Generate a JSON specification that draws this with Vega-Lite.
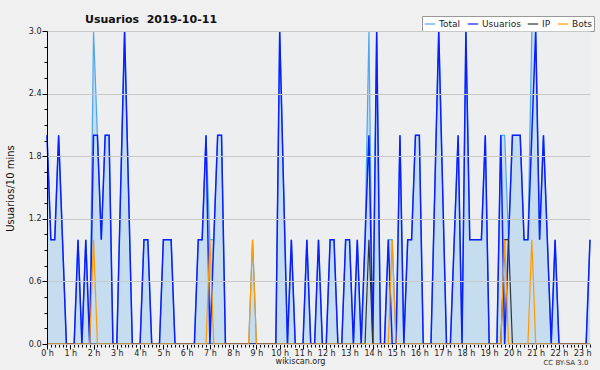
{
"$schema": "https://vega.github.io/schema/vega-lite/v6.json",
"width": 543, "height": 313,
"autosize": "none",
"padding": {"left": 47, "top": 31, "right": 10, "bottom": 26},
"background": "#F0F0F0",
"config": {"view": {"fill": "#EDEEF0", "stroke": null}, "font": "DejaVu Sans"},
"title": {"text": "Usuarios\u00a0\u00a02019-10-11", "anchor": "start", "frame": "group", "dx": 38, "dy": 27, "offset": 9, "baseline": "alphabetic", "font": "DejaVu Sans", "fontSize": 11, "fontWeight": "bold", "color": "#111111"},
"data": {"values": [
{"m":0,"T":2,"U":2,"I":0,"B":0},{"m":10,"T":1,"U":1,"I":0,"B":0},{"m":20,"T":1,"U":1,"I":0,"B":0},{"m":30,"T":2,"U":2,"I":0,"B":0},{"m":40,"T":1,"U":1,"I":0,"B":0},
{"m":50,"T":0,"U":0,"I":0,"B":0},{"m":60,"T":0,"U":0,"I":0,"B":0},{"m":70,"T":0,"U":0,"I":0,"B":0},{"m":80,"T":1,"U":1,"I":0,"B":0},{"m":90,"T":0,"U":0,"I":0,"B":0},
{"m":100,"T":1,"U":1,"I":0,"B":0},{"m":110,"T":0,"U":0,"I":0,"B":0},{"m":120,"T":3,"U":2,"I":0,"B":1},{"m":130,"T":2,"U":2,"I":0,"B":0},{"m":140,"T":1,"U":1,"I":0,"B":0},
{"m":150,"T":2,"U":2,"I":0,"B":0},{"m":160,"T":2,"U":2,"I":0,"B":0},{"m":170,"T":0,"U":0,"I":0,"B":0},{"m":180,"T":0,"U":0,"I":0,"B":0},{"m":190,"T":1.5,"U":1.5,"I":0,"B":0},
{"m":200,"T":3,"U":3,"I":0,"B":0},{"m":210,"T":1.5,"U":1.5,"I":0,"B":0},{"m":220,"T":0,"U":0,"I":0,"B":0},{"m":230,"T":0,"U":0,"I":0,"B":0},{"m":240,"T":0,"U":0,"I":0,"B":0},
{"m":250,"T":1,"U":1,"I":0,"B":0},{"m":260,"T":1,"U":1,"I":0,"B":0},{"m":270,"T":0,"U":0,"I":0,"B":0},{"m":280,"T":0,"U":0,"I":0,"B":0},{"m":290,"T":0,"U":0,"I":0,"B":0},
{"m":300,"T":1,"U":1,"I":0,"B":0},{"m":310,"T":1,"U":1,"I":0,"B":0},{"m":320,"T":1,"U":1,"I":0,"B":0},{"m":330,"T":0,"U":0,"I":0,"B":0},{"m":340,"T":0,"U":0,"I":0,"B":0},
{"m":350,"T":0,"U":0,"I":0,"B":0},{"m":360,"T":0,"U":0,"I":0,"B":0},{"m":370,"T":0,"U":0,"I":0,"B":0},{"m":380,"T":0,"U":0,"I":0,"B":0},{"m":390,"T":1,"U":1,"I":0,"B":0},
{"m":400,"T":1,"U":1,"I":0,"B":0},{"m":410,"T":2,"U":2,"I":0,"B":0},{"m":420,"T":1,"U":0,"I":0,"B":1},{"m":430,"T":1,"U":1,"I":0,"B":0},{"m":440,"T":2,"U":2,"I":0,"B":0},
{"m":450,"T":2,"U":2,"I":0,"B":0},{"m":460,"T":0,"U":0,"I":0,"B":0},{"m":470,"T":0,"U":0,"I":0,"B":0},{"m":480,"T":0,"U":0,"I":0,"B":0},{"m":490,"T":0,"U":0,"I":0,"B":0},
{"m":500,"T":0,"U":0,"I":0,"B":0},{"m":510,"T":0,"U":0,"I":0,"B":0},{"m":520,"T":0,"U":0,"I":0,"B":0},{"m":530,"T":1,"U":0,"I":0,"B":1},{"m":540,"T":0,"U":0,"I":0,"B":0},
{"m":550,"T":0,"U":0,"I":0,"B":0},{"m":560,"T":0,"U":0,"I":0,"B":0},{"m":570,"T":0,"U":0,"I":0,"B":0},{"m":580,"T":0,"U":0,"I":0,"B":0},{"m":590,"T":0,"U":0,"I":0,"B":0},
{"m":600,"T":3,"U":3,"I":0,"B":0},{"m":610,"T":1.5,"U":1.5,"I":0,"B":0},{"m":620,"T":0,"U":0,"I":0,"B":0},{"m":630,"T":1,"U":1,"I":0,"B":0},{"m":640,"T":0,"U":0,"I":0,"B":0},
{"m":650,"T":0,"U":0,"I":0,"B":0},{"m":660,"T":0,"U":0,"I":0,"B":0},{"m":670,"T":1,"U":1,"I":0,"B":0},{"m":680,"T":0,"U":0,"I":0,"B":0},{"m":690,"T":0,"U":0,"I":0,"B":0},
{"m":700,"T":1,"U":1,"I":0,"B":0},{"m":710,"T":0,"U":0,"I":0,"B":0},{"m":720,"T":0,"U":0,"I":0,"B":0},{"m":730,"T":1,"U":1,"I":0,"B":0},{"m":740,"T":1,"U":1,"I":0,"B":0},
{"m":750,"T":0,"U":0,"I":0,"B":0},{"m":760,"T":0,"U":0,"I":0,"B":0},{"m":770,"T":1,"U":1,"I":0,"B":0},{"m":780,"T":1,"U":1,"I":0,"B":0},{"m":790,"T":0,"U":0,"I":0,"B":0},
{"m":800,"T":1,"U":1,"I":0,"B":0},{"m":810,"T":0,"U":0,"I":0,"B":0},{"m":820,"T":1,"U":1,"I":0,"B":0},{"m":830,"T":3,"U":2,"I":1,"B":0},{"m":840,"T":0,"U":0,"I":0,"B":0},
{"m":850,"T":3,"U":3,"I":0,"B":0},{"m":860,"T":0,"U":0,"I":0,"B":0},{"m":870,"T":0,"U":0,"I":0,"B":0},{"m":880,"T":1,"U":1,"I":0,"B":0},{"m":890,"T":1,"U":0,"I":0,"B":1},
{"m":900,"T":0,"U":0,"I":0,"B":0},{"m":910,"T":2,"U":2,"I":0,"B":0},{"m":920,"T":0,"U":0,"I":0,"B":0},{"m":930,"T":1,"U":1,"I":0,"B":0},{"m":940,"T":1,"U":1,"I":0,"B":0},
{"m":950,"T":2,"U":2,"I":0,"B":0},{"m":960,"T":2,"U":2,"I":0,"B":0},{"m":970,"T":0,"U":0,"I":0,"B":0},{"m":980,"T":0,"U":0,"I":0,"B":0},{"m":990,"T":0,"U":0,"I":0,"B":0},
{"m":1000,"T":1.5,"U":1.5,"I":0,"B":0},{"m":1010,"T":3,"U":3,"I":0,"B":0},{"m":1020,"T":1.5,"U":1.5,"I":0,"B":0},{"m":1030,"T":0,"U":0,"I":0,"B":0},{"m":1040,"T":0,"U":0,"I":0,"B":0},
{"m":1050,"T":1,"U":1,"I":0,"B":0},{"m":1060,"T":2,"U":2,"I":0,"B":0},{"m":1070,"T":0,"U":0,"I":0,"B":0},{"m":1080,"T":3,"U":3,"I":0,"B":0},{"m":1090,"T":1,"U":1,"I":0,"B":0},
{"m":1100,"T":1,"U":1,"I":0,"B":0},{"m":1110,"T":1,"U":1,"I":0,"B":0},{"m":1120,"T":1,"U":1,"I":0,"B":0},{"m":1130,"T":2,"U":2,"I":0,"B":0},{"m":1140,"T":0,"U":0,"I":0,"B":0},
{"m":1150,"T":0,"U":0,"I":0,"B":0},{"m":1160,"T":0,"U":0,"I":0,"B":0},{"m":1170,"T":2,"U":2,"I":0,"B":0},{"m":1180,"T":2,"U":0,"I":1,"B":1},{"m":1190,"T":1,"U":1,"I":1,"B":0},
{"m":1200,"T":2,"U":2,"I":0,"B":0},{"m":1210,"T":2,"U":2,"I":0,"B":0},{"m":1220,"T":2,"U":2,"I":0,"B":0},{"m":1230,"T":1,"U":1,"I":0,"B":0},{"m":1240,"T":1,"U":1,"I":0,"B":0},
{"m":1250,"T":3,"U":2,"I":0,"B":1},{"m":1260,"T":3,"U":3,"I":0,"B":0},{"m":1270,"T":1,"U":1,"I":0,"B":0},{"m":1280,"T":2,"U":2,"I":0,"B":0},{"m":1290,"T":1,"U":1,"I":0,"B":0},
{"m":1300,"T":0,"U":0,"I":0,"B":0},{"m":1310,"T":1,"U":1,"I":0,"B":0},{"m":1320,"T":0,"U":0,"I":0,"B":0},{"m":1330,"T":0,"U":0,"I":0,"B":0},{"m":1340,"T":0,"U":0,"I":0,"B":0},
{"m":1350,"T":0,"U":0,"I":0,"B":0},{"m":1360,"T":0,"U":0,"I":0,"B":0},{"m":1370,"T":0,"U":0,"I":0,"B":0},{"m":1380,"T":0,"U":0,"I":0,"B":0},{"m":1390,"T":0,"U":0,"I":0,"B":0},
{"m":1400,"T":1,"U":1,"I":0,"B":0}
]},
"layer": [
{"mark": {"type": "area", "color": "#C6DDF0", "interpolate": "linear"},
 "encoding": {
  "x": {"field": "m", "type": "quantitative", "scale": {"domain": [0, 1400], "nice": false, "zero": false},
   "axis": {"orient": "bottom", "tickCount": 140, "labelExpr": "datum.value % 60 === 0 ? (datum.value/60) + ' h' : ''",
    "tickSize": {"condition": {"test": "datum.value % 60 === 0", "value": 5}, "value": 3},
    "tickColor": "#000000", "domainColor": "#000000", "grid": false, "labelOverlap": false, "labelFlush": false,
    "labelFontSize": 8, "labelColor": "#222222", "labelPadding": 0,
    "title": "wikiscan.org", "titleX": 253, "titleY": 17, "titleBaseline": "middle", "titleAlign": "center", "titleFontSize": 8, "titleFontWeight": "normal", "titleColor": "#222222"}},
  "y": {"field": "T", "type": "quantitative", "scale": {"domain": [0, 3], "nice": false},
   "axis": {"values": [0,0.15,0.3,0.45,0.6,0.75,0.9,1.05,1.2,1.35,1.5,1.65,1.8,1.95,2.1,2.25,2.4,2.55,2.7,2.85,3],
    "labelExpr": "abs(datum.value/0.6 - round(datum.value/0.6)) < 0.01 ? format(datum.value, '.1f') : ''",
    "tickSize": {"condition": {"test": "abs(datum.value/0.6 - round(datum.value/0.6)) < 0.01", "value": 5}, "value": 3},
    "grid": true, "gridColor": "#C8C8C8",
    "gridOpacity": {"condition": {"test": "abs(datum.value/0.6 - round(datum.value/0.6)) < 0.01", "value": 1}, "value": 0},
    "tickColor": "#000000", "domainColor": "#000000", "labelOverlap": false, "labelFlush": false,
    "labelFontSize": 8, "labelColor": "#222222", "labelPadding": 1, "zindex": 1,
    "title": "Usuarios/10 mins", "titleX": -37, "titleY": 157, "titleAngle": 270, "titleBaseline": "middle", "titleAlign": "center",
    "titleFontSize": 10, "titleFontWeight": "normal", "titleColor": "#111111"}}
 }},
{"mark": {"type": "line", "strokeWidth": 1.2},
 "encoding": {
  "x": {"field": "m", "type": "quantitative", "axis": null},
  "y": {"field": "T", "type": "quantitative", "axis": null},
  "color": {"datum": "Total", "type": "nominal",
   "scale": {"domain": ["Total", "Usuarios", "IP", "Bots"], "range": ["#4DA6F0", "#0A1EFF", "#333333", "#FF9900"]},
   "legend": {"orient": "none", "legendX": 375, "legendY": -15, "direction": "horizontal", "title": null,
    "fillColor": "#FFFFFF", "strokeColor": "#999999", "padding": 2, "symbolType": "stroke", "symbolSize": 110,
    "symbolStrokeWidth": 1.2, "labelFontSize": 9, "labelFont": "DejaVu Sans", "labelColor": "#222222",
    "columnPadding": 4, "labelOffset": 3}}
 }},
{"mark": {"type": "line", "strokeWidth": 1.5},
 "encoding": {
  "x": {"field": "m", "type": "quantitative", "axis": null},
  "y": {"field": "U", "type": "quantitative", "axis": null},
  "color": {"datum": "Usuarios", "type": "nominal"}
 }},
{"mark": {"type": "line", "strokeWidth": 1.2},
 "encoding": {
  "x": {"field": "m", "type": "quantitative", "axis": null},
  "y": {"field": "I", "type": "quantitative", "axis": null},
  "color": {"datum": "IP", "type": "nominal"}
 }},
{"mark": {"type": "line", "strokeWidth": 1.2},
 "encoding": {
  "x": {"field": "m", "type": "quantitative",
   "axis": {"orient": "bottom", "labels": false, "ticks": false, "domain": false, "grid": false,
    "title": "CC BY-SA 3.0", "titleX": 541, "titleY": 18, "titleAlign": "right", "titleBaseline": "middle",
    "titleFontSize": 7, "titleFontWeight": "normal", "titleColor": "#333333"}},
  "y": {"field": "B", "type": "quantitative", "axis": null},
  "color": {"datum": "Bots", "type": "nominal"}
 }}
],
"resolve": {"axis": {"x": "independent", "y": "independent"}}
}
